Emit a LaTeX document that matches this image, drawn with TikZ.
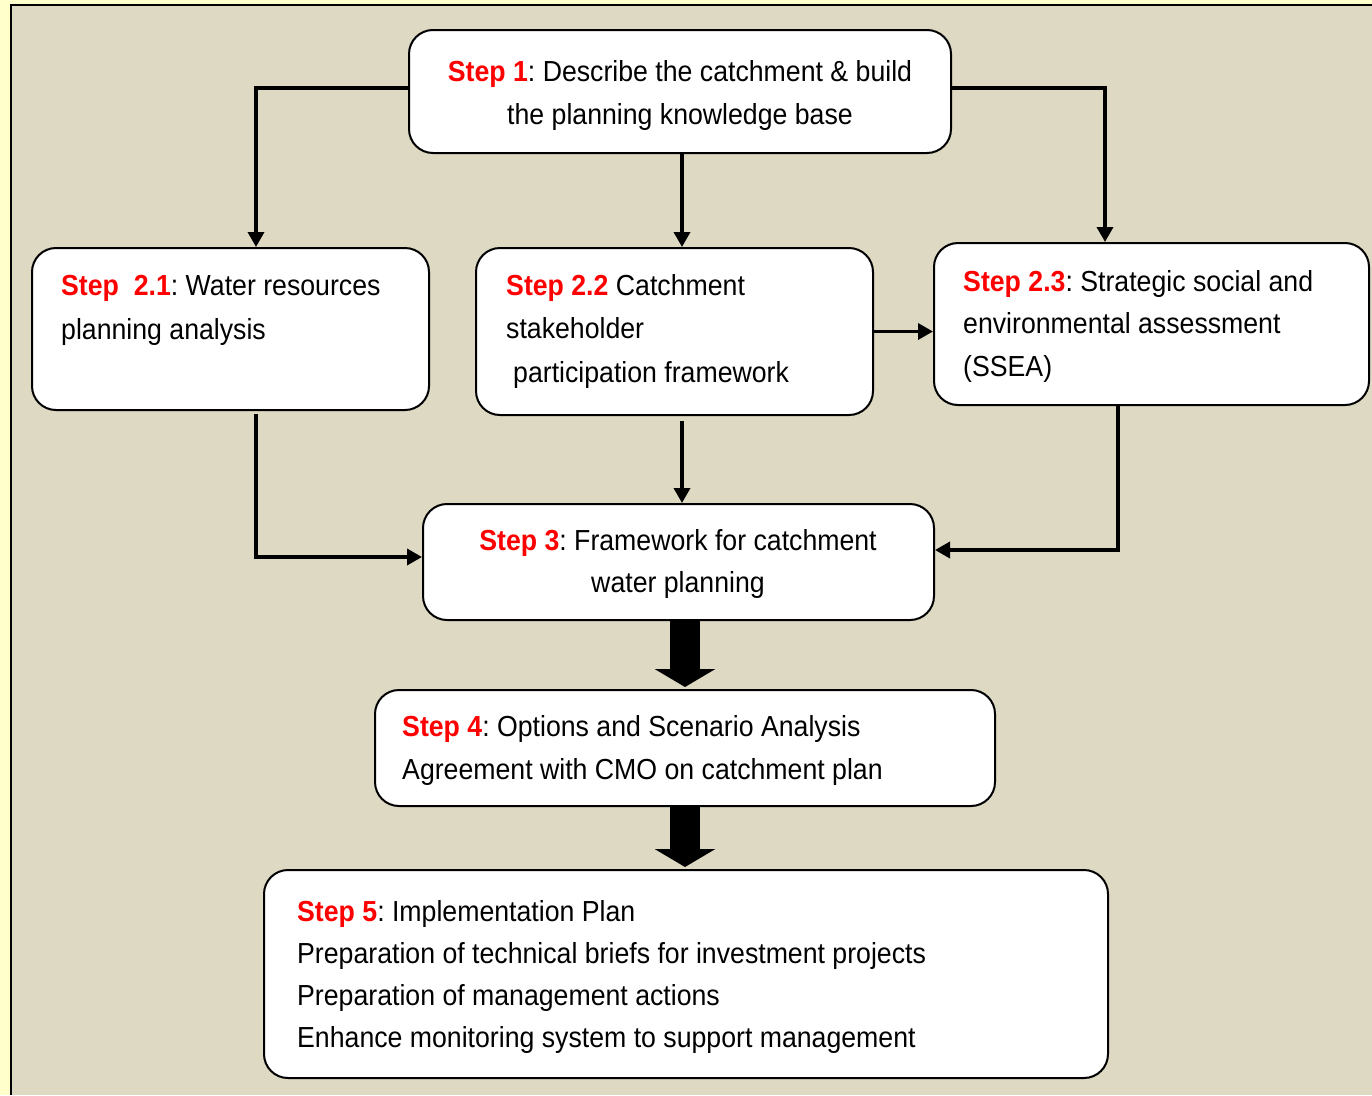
\documentclass[tikz,border=0pt]{standalone}
\usepackage{fontspec}
\setmainfont{Liberation Sans}[FakeStretch=0.92]
\usetikzlibrary{arrows.meta,calc}
\definecolor{bgbeige}{HTML}{DDD9C3}
\definecolor{bgyellow}{HTML}{FFFFCC}
\definecolor{stepred}{HTML}{FF0000}
\newcommand{\stp}[1]{\textcolor{stepred}{\bfseries #1}}
\frenchspacing
\begin{document}
\begin{tikzpicture}[x=1pt,y=-1pt,
  stepbox/.style={draw=black,line width=2pt,fill=white,rounded corners=24pt,inner sep=0pt},
  txt/.style={inner sep=0pt,font=\fontsize{29}{43}\selectfont},
  conn/.style={draw=black,line width=3.5pt,-{Triangle[length=15pt,width=16pt]}},
  bigarrow/.style={draw=black,line width=30pt,-{Triangle[length=18pt,width=60pt]}}]
\useasboundingbox (0,0) rectangle (1372,1095);
\fill[bgyellow] (0,0) rectangle (1372,1095);
\fill[bgbeige] (11,5) rectangle (1372,1095);
\draw[line width=2pt] (11,1095) -- (11,5) -- (1372,5);
% boxes
\node[stepbox,minimum width=542pt,minimum height=123pt] (s1) at (680,91.5) {};
\node[stepbox,minimum width=397pt,minimum height=162pt] (s21) at (230.5,329) {};
\node[stepbox,minimum width=397pt,minimum height=167pt] (s22) at (674.5,331.5) {};
\node[stepbox,minimum width=435pt,minimum height=162pt] (s23) at (1151.5,324) {};
\node[stepbox,minimum width=511pt,minimum height=116pt] (s3) at (678.5,562) {};
\node[stepbox,minimum width=620pt,minimum height=116pt] (s4) at (685,748) {};
\node[stepbox,minimum width=844pt,minimum height=208pt] (s5) at (686,974) {};
% texts
\node[txt,anchor=base] (t1a) at (680,81) {\stp{Step 1}: Describe the catchment \& build};
\node[txt,anchor=base] (t1b) at (680,124) {the planning knowledge base};
\node[txt,anchor=base west] (t21a) at (61,295) {\stp{Step\ \ 2.1}: Water resources};
\node[txt,anchor=base west] (t21b) at (61,339) {planning analysis};
\node[txt,anchor=base west] (t22a) at (506,295) {\stp{Step 2.2} Catchment};
\node[txt,anchor=base west] (t22b) at (506,338) {stakeholder};
\node[txt,anchor=base west] (t22c) at (513,382) {participation framework};
\node[txt,anchor=base west] (t23a) at (963,291) {\stp{Step 2.3}: Strategic social and};
\node[txt,anchor=base west] (t23b) at (963,333) {environmental assessment};
\node[txt,anchor=base west] (t23c) at (963,376) {(SSEA)};
\node[txt,anchor=base] (t3a) at (678,550) {\stp{Step 3}: Framework for catchment};
\node[txt,anchor=base] (t3b) at (678,592) {water planning};
\node[txt,anchor=base west] (t4a) at (402,736) {\stp{Step 4}: Options and Scenario Analysis};
\node[txt,anchor=base west] (t4b) at (402,779) {Agreement with CMO on catchment plan};
\node[txt,anchor=base west] (t5a) at (297,921) {\stp{Step 5}: Implementation Plan};
\node[txt,anchor=base west] (t5b) at (297,963) {Preparation of technical briefs for investment projects};
\node[txt,anchor=base west] (t5c) at (297,1005) {Preparation of management actions};
\node[txt,anchor=base west] (t5d) at (297,1047) {Enhance monitoring system to support management};
% connectors
\coordinate (c1l) at (256,88);
\coordinate (c1r) at (1105,88);
\coordinate (c21d) at (256,557);
\coordinate (c23d) at (1118,550);
\draw[conn] (s1.west |- c1l) -- (c1l) -- (c1l |- s21.north);
\draw[conn] (s1.east |- c1r) -- (c1r) -- (c1r |- s23.north);
\draw[conn] ($(s1.south)+(2,0)$) -- ($(s1.south |- s22.north)+(2,0)$);
\draw[conn] (s22.east) -- (s22.east -| s23.west);
\draw[conn] ($(s22.south)+(7.5,5)$) -- ($(s22.south |- s3.north)+(7.5,0)$);
\draw[conn] ($(s21.south -| c21d)+(0,3)$) -- (c21d) -- (c21d -| s3.west);
\draw[conn] (s23.south -| c23d) -- (c23d) -- (c23d -| s3.east);
\draw[bigarrow] (s3.south -| s4.north) -- ($(s4.north)+(0,-2)$);
\draw[bigarrow] (s4.south) -- ($(s4.south |- s5.north)+(0,-2)$);
\end{tikzpicture}
\end{document}
